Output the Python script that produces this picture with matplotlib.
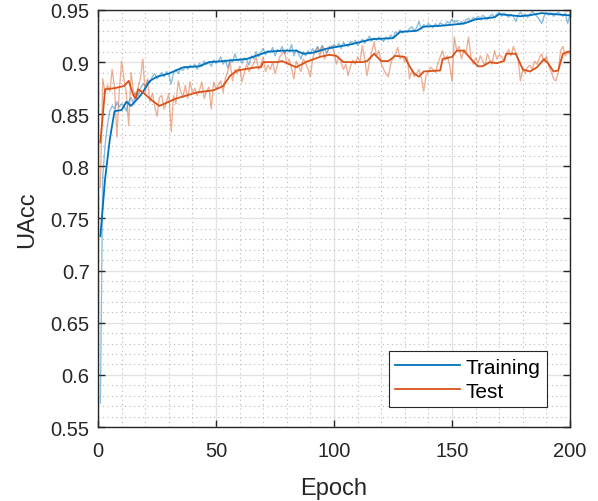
import numpy as np
import matplotlib
matplotlib.use('Agg')
import matplotlib.pyplot as plt
from matplotlib.ticker import MultipleLocator, FixedLocator

plt.rcParams['font.family'] = ['Liberation Sans', 'DejaVu Sans']

# raw accuracy per epoch (1..200)
train_raw = [
    0.573, 0.790, 0.820, 0.840, 0.853, 0.858, 0.855, 0.862, 0.857, 0.860,
    0.858, 0.853, 0.862, 0.866, 0.860, 0.871, 0.868, 0.875, 0.879, 0.877,
    0.882, 0.880, 0.886, 0.889, 0.884, 0.887, 0.890, 0.886, 0.891, 0.888,
    0.879, 0.890, 0.893, 0.889, 0.894, 0.892, 0.896, 0.893, 0.897, 0.895,
    0.898, 0.893, 0.899, 0.896, 0.901, 0.898, 0.900, 0.896, 0.902, 0.899,
    0.901, 0.905, 0.898, 0.902, 0.894, 0.903, 0.900, 0.908, 0.901, 0.903,
    0.899, 0.904, 0.902, 0.897, 0.906, 0.903, 0.910, 0.905, 0.909, 0.913,
    0.907, 0.911, 0.909, 0.914, 0.906, 0.912, 0.910, 0.915, 0.908, 0.912,
    0.910, 0.917, 0.906, 0.912, 0.908, 0.903, 0.910, 0.906, 0.911, 0.908,
    0.913, 0.909, 0.915, 0.911, 0.916, 0.912, 0.909, 0.915, 0.913, 0.917,
    0.914, 0.918, 0.913, 0.919, 0.916, 0.915, 0.920, 0.917, 0.921, 0.916,
    0.919, 0.922, 0.918, 0.921, 0.925, 0.920, 0.923, 0.921, 0.924, 0.922,
    0.920, 0.924, 0.922, 0.926, 0.923, 0.929, 0.927, 0.931, 0.928, 0.930,
    0.929, 0.932, 0.934, 0.930, 0.933, 0.939, 0.932, 0.936, 0.934, 0.937,
    0.935, 0.933, 0.937, 0.934, 0.938, 0.936, 0.935, 0.939, 0.937, 0.941,
    0.938, 0.940, 0.936, 0.939, 0.937, 0.941, 0.942, 0.939, 0.943, 0.941,
    0.944, 0.942, 0.945, 0.943, 0.941, 0.944, 0.946, 0.943, 0.946, 0.948,
    0.944, 0.947, 0.945, 0.943, 0.946, 0.944, 0.939, 0.945, 0.948, 0.944,
    0.946, 0.943, 0.945, 0.949, 0.946, 0.944, 0.941, 0.937, 0.944, 0.947,
    0.945, 0.947, 0.944, 0.946, 0.948, 0.946, 0.944, 0.947, 0.937, 0.946,
]

test_raw = [
    0.780, 0.884, 0.870, 0.878, 0.872, 0.893, 0.876, 0.828, 0.872, 0.901,
    0.884, 0.870, 0.839, 0.890, 0.872, 0.866, 0.876, 0.885, 0.903, 0.870,
    0.884, 0.862, 0.870, 0.858, 0.848, 0.866, 0.868, 0.855, 0.862, 0.870,
    0.833, 0.868, 0.860, 0.882, 0.872, 0.866, 0.878, 0.865, 0.881, 0.870,
    0.875, 0.868, 0.873, 0.881, 0.865, 0.872, 0.876, 0.855, 0.881, 0.874,
    0.878, 0.882, 0.871, 0.885, 0.891, 0.900, 0.882, 0.893, 0.889, 0.896,
    0.881, 0.890, 0.898, 0.891, 0.895, 0.899, 0.905, 0.893, 0.898, 0.905,
    0.891, 0.897, 0.893, 0.900, 0.889, 0.897, 0.905, 0.908, 0.911, 0.898,
    0.903, 0.894, 0.884, 0.901, 0.896, 0.891, 0.903, 0.899, 0.893, 0.886,
    0.904, 0.911, 0.914, 0.906, 0.915, 0.903, 0.909, 0.913, 0.916, 0.910,
    0.898, 0.905, 0.900, 0.893, 0.898, 0.887, 0.896, 0.902, 0.898, 0.905,
    0.900, 0.916, 0.903, 0.887, 0.900, 0.910, 0.919, 0.906, 0.911, 0.899,
    0.893, 0.889, 0.886, 0.898, 0.905, 0.908, 0.914, 0.903, 0.906, 0.900,
    0.905, 0.884, 0.892, 0.886, 0.889, 0.893, 0.885, 0.872, 0.887, 0.891,
    0.895, 0.893, 0.890, 0.899, 0.905, 0.911, 0.902, 0.906, 0.897, 0.882,
    0.924, 0.911, 0.915, 0.903, 0.912, 0.910, 0.924, 0.905, 0.898, 0.904,
    0.899, 0.906, 0.901, 0.897, 0.908, 0.902, 0.898, 0.911, 0.903, 0.907,
    0.905, 0.902, 0.908, 0.912, 0.906, 0.915, 0.909, 0.903, 0.882, 0.893,
    0.889, 0.895, 0.897, 0.893, 0.901, 0.898, 0.904, 0.908, 0.900, 0.906,
    0.896, 0.891, 0.884, 0.882, 0.890, 0.911, 0.915, 0.906, 0.909, 0.908,
]

# smoothed curves (knots)
train_sm_ep = [1, 3, 5, 7, 10, 12, 14, 18, 22, 25, 30, 36, 43, 47, 53, 63, 72,
               78, 84, 87, 91, 97, 107, 116, 125, 128, 135, 138, 146, 155, 160,
               168, 170, 179, 183, 188, 199, 200]
train_sm = [0.733, 0.788, 0.826, 0.853, 0.854, 0.862, 0.858, 0.868, 0.882, 0.886,
            0.889, 0.895, 0.896, 0.900, 0.901, 0.903, 0.910, 0.911, 0.911, 0.908,
            0.909, 0.913, 0.917, 0.922, 0.923, 0.929, 0.930, 0.934, 0.935, 0.937,
            0.941, 0.943, 0.946, 0.944, 0.945, 0.947, 0.945, 0.945]

test_sm_ep = [1, 3, 7, 11, 13, 15, 16, 17, 19, 23, 26, 30, 33, 36, 42, 49, 53, 56,
              59, 67, 69, 70, 76, 78, 84, 88, 94, 98, 101, 104, 112, 114, 117, 120,
              123, 126, 130, 132, 134, 136, 138, 145, 146, 150, 152, 155, 158, 161,
              163, 166, 169, 172, 173, 177, 180, 183, 186, 189, 191, 193, 195, 197,
              199, 200]
test_sm = [0.823, 0.874, 0.875, 0.877, 0.882, 0.868, 0.865, 0.874, 0.871, 0.863,
           0.858, 0.862, 0.865, 0.867, 0.871, 0.873, 0.877, 0.887, 0.892, 0.895,
           0.895, 0.900, 0.900, 0.901, 0.895, 0.900, 0.905, 0.907, 0.906, 0.900,
           0.900, 0.901, 0.908, 0.901, 0.901, 0.906, 0.905, 0.896, 0.889, 0.886,
           0.891, 0.892, 0.903, 0.905, 0.911, 0.911, 0.903, 0.896, 0.896, 0.900,
           0.899, 0.901, 0.908, 0.908, 0.893, 0.891, 0.895, 0.903, 0.898, 0.891,
           0.892, 0.908, 0.910, 0.910]

epochs = np.arange(1, len(train_raw) + 1)

BLUE = '#0072BD'
ORANGE = '#D95319'
DARK = '#262626'

fig = plt.figure(figsize=(5.98, 5.02), dpi=100)
ax = fig.add_axes([0.1639, 0.1474, 0.7893, 0.8307])

ax.plot(epochs, train_raw, color=BLUE, alpha=0.45, lw=1.0)
ax.plot(epochs, test_raw, color=ORANGE, alpha=0.45, lw=1.0)
ax.plot(train_sm_ep, train_sm, color=BLUE, lw=1.3, label='Training')
ax.plot(test_sm_ep, test_sm, color=ORANGE, lw=1.3, label='Test')

ax.set_xlim(0, 200)
ax.set_ylim(0.55, 0.95)
ax.xaxis.set_major_locator(MultipleLocator(50))
ax.xaxis.set_minor_locator(MultipleLocator(10))
yt = [0.55, 0.6, 0.65, 0.7, 0.75, 0.8, 0.85, 0.9, 0.95]
ax.yaxis.set_major_locator(FixedLocator(yt))
ax.set_yticklabels(['0.55', '0.6', '0.65', '0.7', '0.75', '0.8', '0.85', '0.9', '0.95'])
ax.yaxis.set_minor_locator(MultipleLocator(0.01))

ax.grid(True, which='major', color='#e3e3e3', lw=1.0, ls='-')
ax.grid(True, which='minor', color='#b8b8b8', lw=0.8, ls=(0, (1, 3)))
ax.set_axisbelow(True)

ax.tick_params(which='major', direction='in', length=5, width=1, colors=DARK,
               labelsize=14.5, top=True, right=True)
ax.tick_params(axis='y', pad=6)
ax.tick_params(axis='x', pad=10)
ax.tick_params(which='minor', length=0, top=True, right=True)
for s in ax.spines.values():
    s.set_color(DARK)
    s.set_linewidth(1.0)

ax.set_xlabel('Epoch', fontsize=17, color=DARK, labelpad=12)
ax.set_ylabel('UAcc', fontsize=17, color=DARK, labelpad=9)

leg = ax.legend(loc='lower right', bbox_to_anchor=(0.951, 0.048), borderaxespad=0,
                fontsize=15, fancybox=False, framealpha=1, edgecolor=DARK,
                handlelength=3.1, handletextpad=0.3, labelspacing=0.25,
                borderpad=0.3)
leg.get_frame().set_linewidth(0.8)

fig.savefig('out.png', dpi=100)
